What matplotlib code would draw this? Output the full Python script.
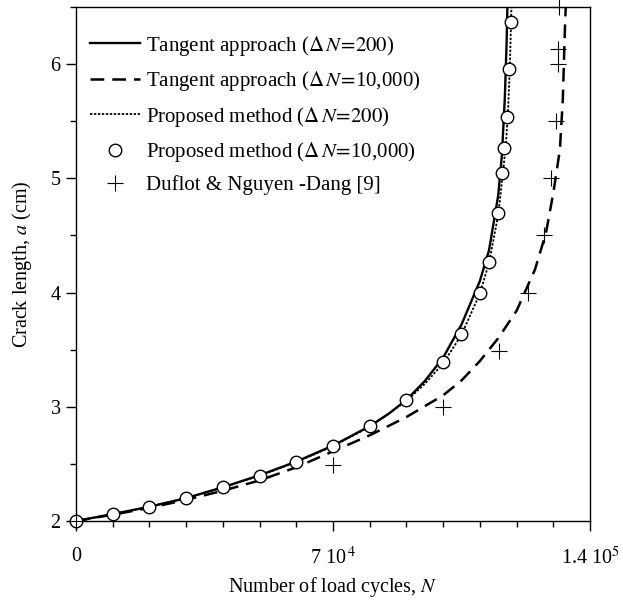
import matplotlib
matplotlib.use("Agg")
import matplotlib.pyplot as plt
from matplotlib.ticker import FixedLocator, FixedFormatter, MultipleLocator

plt.rcParams['font.family'] = ['Liberation Serif', 'DejaVu Serif']
plt.rcParams['mathtext.fontset'] = 'stix'

# tangent approach, dN = 200 (solid)
tan200_N = [0, 1e4, 2e4, 3e4, 4e4, 5e4, 6e4, 7e4, 8e4, 8.5e4, 9e4, 9.5e4, 10e4,
            10.5e4, 11e4, 11.25e4, 11.5e4, 11.6e4, 11.68e4, 11.73e4, 11.75e4]
tan200_a = [2.0, 2.06, 2.125, 2.2, 2.295, 2.40, 2.52, 2.66, 2.83, 2.935, 3.06, 3.225, 3.43,
            3.72, 4.1, 4.37, 4.85, 5.2, 5.7, 6.2, 6.5]

# tangent approach, dN = 10,000 (dashed)
tan10k_N = [0, 1e4, 2e4, 3e4, 4e4, 5e4, 6e4, 7e4, 8e4, 9e4, 10e4, 10.5e4,
            11e4, 11.5e4, 12e4, 12.5e4, 12.8e4, 13e4, 13.18e4, 13.26e4, 13.32e4, 13.34e4]
tan10k_a = [2.0, 2.055, 2.115, 2.185, 2.265, 2.355, 2.47, 2.61, 2.75, 2.91, 3.1, 3.23,
            3.4, 3.6, 3.84, 4.2, 4.52, 4.87, 5.25, 5.69, 6.34, 6.5]

# proposed method, dN = 200 (dotted)
prop200_N = [0, 1e4, 2e4, 3e4, 4e4, 5e4, 6e4, 7e4, 8e4, 9e4, 9.5e4, 10e4, 10.5e4,
             11e4, 11.25e4, 11.5e4, 11.63e4, 11.71e4, 11.77e4, 11.82e4, 11.86e4]
prop200_a = [2.0, 2.06, 2.125, 2.2, 2.295, 2.397, 2.515, 2.655, 2.825, 3.05, 3.2, 3.38, 3.63,
             3.99, 4.26, 4.68, 5.05, 5.3, 5.6, 6.0, 6.5]

# proposed method, dN = 10,000 (circles)
prop10k_N = [0, 1e4, 2e4, 3e4, 4e4, 5e4, 6e4, 7e4, 8e4, 9e4, 10e4, 10.5e4,
             11e4, 11.25e4, 11.49e4, 11.61e4, 11.67e4, 11.73e4, 11.80e4, 11.85e4]
prop10k_a = [2.0, 2.06, 2.125, 2.2, 2.295, 2.397, 2.515, 2.658, 2.83, 3.06, 3.39, 3.64,
             4.0, 4.27, 4.70, 5.05, 5.27, 5.54, 5.96, 6.37]

# Duflot & Nguyen-Dang [9] (plus)
duflot_N = [0, 7e4, 10e4, 11.53e4, 12.3e4, 12.76e4, 12.95e4, 13.07e4, 13.14e4, 13.14e4, 13.16e4]
duflot_a = [2.0, 2.49, 3.0, 3.49, 4.0, 4.5, 5.0, 5.5, 6.0, 6.13, 6.5]

x_ticks = [0, 7e4, 1.4e5]
x_ticklabels = ['0', r'7 10$^{\,4}$', r'1.4 10$^{5}$']
y_ticks = [2, 3, 4, 5, 6]

fig = plt.figure(figsize=(6.23, 6.0), dpi=100)
ax = fig.add_axes([0.122, 0.1317, 0.825, 0.8566])

ax.plot(tan200_N, tan200_a, color='k', lw=1.7, ls='-',
        label=r'Tangent approach ($\Delta\,N\!=\!200$)', zorder=3)
ax.plot(tan10k_N, tan10k_a, color='k', lw=1.8, dashes=(5.5, 3.2),
        label=r'Tangent approach ($\Delta\,N\!=\!$10,000)', zorder=3)
ax.plot(prop200_N, prop200_a, color='k', lw=1.3, dashes=(1.3, 0.9),
        label=r'Proposed method ($\Delta\,N\!=\!200$)', zorder=4)
ax.plot(prop10k_N, prop10k_a, ls='none', marker='o', ms=9, mfc='white', mec='k', mew=1.0,
        label=r'Proposed method ($\Delta\,N\!=\!$10,000)', zorder=5, clip_on=False)
ax.plot(duflot_N, duflot_a, ls='none', marker='+', ms=11, mec='k', mew=0.8,
        label='Duflot & Nguyen -Dang [9]', zorder=6, clip_on=False)

ax.set_xlim(0, 1.4e5)
ax.set_ylim(2, 6.5)
ax.xaxis.set_major_locator(FixedLocator(x_ticks))
ax.xaxis.set_major_formatter(FixedFormatter(x_ticklabels))
ax.xaxis.set_minor_locator(MultipleLocator(1e4))
ax.yaxis.set_major_locator(FixedLocator(y_ticks))
ax.yaxis.set_minor_locator(MultipleLocator(0.5))

ax.tick_params(which='major', direction='out', length=7, width=1, labelsize=14.5, pad=12)
ax.tick_params(which='minor', direction='out', length=4, width=1)
ax.tick_params(axis='y', which='major', length=7, pad=4)
for s in ax.spines.values():
    s.set_linewidth(1.0)

ax.set_xlabel(r'Number of load cycles, $\it{N}$', fontsize=14.5)
ax.xaxis.set_label_coords(0.5, -0.105)
ax.set_ylabel(r'Crack length, $\it{a}$ (cm)', fontsize=14.5, labelpad=12)

ax.legend(loc='upper left', bbox_to_anchor=(0.027, 0.948), frameon=False, fontsize=15,
          borderpad=0, borderaxespad=0, handlelength=2.4, handletextpad=0.3,
          labelspacing=0.55)

fig.savefig('out.png', dpi=100)
